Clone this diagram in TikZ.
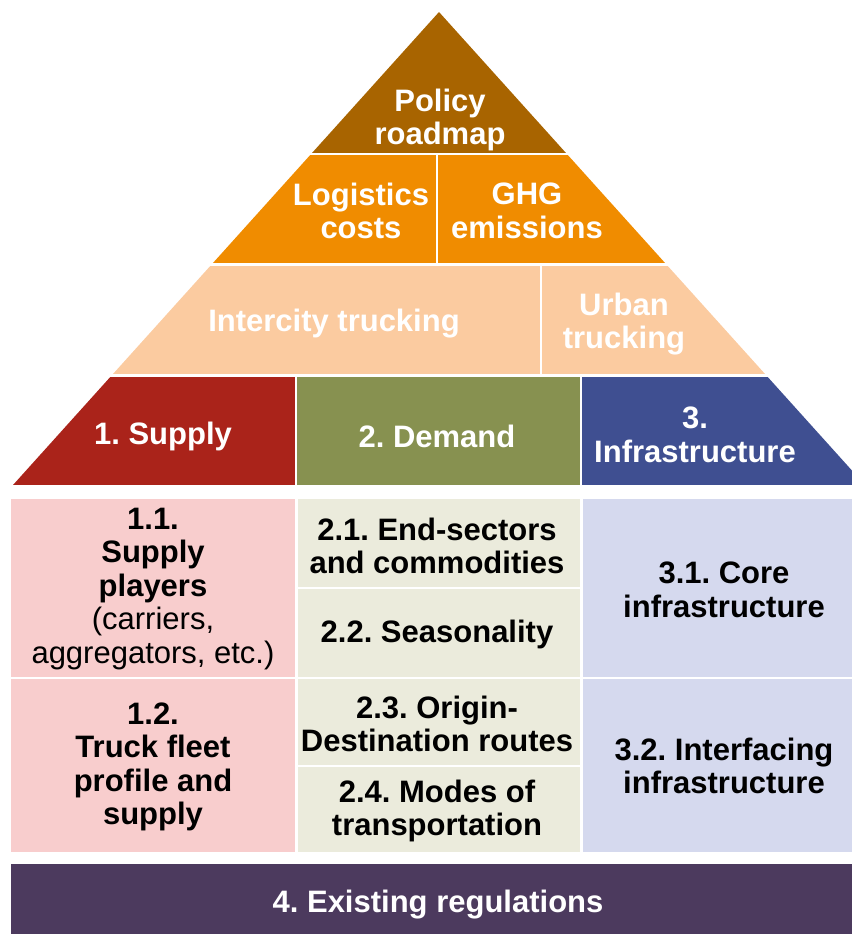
\documentclass[tikz,border=0pt]{standalone}
\usepackage{fontspec}
\setmainfont{Liberation Sans}
\usepackage{xcolor}
\usetikzlibrary{calc}
\frenchspacing
\definecolor{policyc}{RGB}{168,100,0}
\definecolor{costc}{RGB}{240,140,0}
\definecolor{truckc}{RGB}{251,203,160}
\definecolor{supplyc}{RGB}{170,35,26}
\definecolor{demandc}{RGB}{135,145,80}
\definecolor{infrac}{RGB}{63,79,145}
\definecolor{supplyl}{RGB}{248,205,205}
\definecolor{demandl}{RGB}{235,235,220}
\definecolor{infral}{RGB}{213,217,238}
\definecolor{regc}{RGB}{76,58,94}
\tikzset{
        label/.style = {font=\bfseries\fontsize{31}{33.5}\selectfont, align=center, inner sep=0pt, text=white},
        cell/.style = {label, text=black},
        band/.style = {draw=none}}

\begin{document}
\begin{tikzpicture}[x=1pt,y=-1pt]
    \useasboundingbox (0,0) rectangle (852,934);
    % pyramid
    \begin{scope}
        \clip (439,12) -- (13,485) -- (865,485) -- cycle;
        \fill[policyc] (0,0) rectangle (852,153);
        \fill[costc] (0,155) rectangle (436,263);
        \fill[costc] (438,155) rectangle (852,263);
        \fill[truckc] (0,266) rectangle (540,374);
        \fill[truckc] (542,266) rectangle (852,374);
        \fill[supplyc] (0,377) rectangle (295,485);
        \fill[demandc] (297,377) rectangle (580,485);
        \fill[infrac] (582,377) rectangle (852,485);
    \end{scope}
    % grid below
    \fill[supplyl] (11,499) rectangle (295,677);
    \fill[supplyl] (11,679) rectangle (295,852);
    \fill[demandl] (298,499) rectangle (580,587);
    \fill[demandl] (298,589) rectangle (580,677);
    \fill[demandl] (298,679) rectangle (580,765);
    \fill[demandl] (298,767) rectangle (580,852);
    \fill[infral] (583,499) rectangle (852,677);
    \fill[infral] (583,679) rectangle (852,852);
    \fill[regc] (11,864) rectangle (852,934);

    \node [label] (policy) at (440,120) {Policy\\roadmap};
    \node [label] (cost) at (361,211) {Logistics\\costs};
    \node [label] (ghg) at (527,211) {GHG\\emissions};
    \node [label] (inter) at (334,324) {Intercity trucking};
    \node [label] (urban) at (624,324) {Urban\\trucking};
    \node [label] (supply) at (163,436) {1. Supply};
    \node [label] (demand) at (437,436) {2. Demand};
    \node [label] (infra) at (695,435) {3.\\Infrastructure};

    \node [cell] (players) at (153,589) {1.1.\\Supply\\players\\\mdseries(carriers,\\\mdseries aggregators, etc.)};
    \node [cell] (fleet) at (153,767) {1.2.\\Truck fleet\\profile and\\supply};
    \node [cell] (sectors) at (437,546) {2.1. End-sectors\\and commodities};
    \node [cell] (season) at (437,634) {2.2. Seasonality};
    \node [cell] (routes) at (437,724) {2.3. Origin-\\Destination routes};
    \node [cell] (modes) at (437,811) {2.4. Modes of\\transportation};
    \node [cell] (core) at (724,590) {3.1. Core\\infrastructure};
    \node [cell] (interf) at (724,766) {3.2. Interfacing\\infrastructure};
    \node [label] (regs) at (438,905) {4. Existing regulations};
\end{tikzpicture}
\end{document}
